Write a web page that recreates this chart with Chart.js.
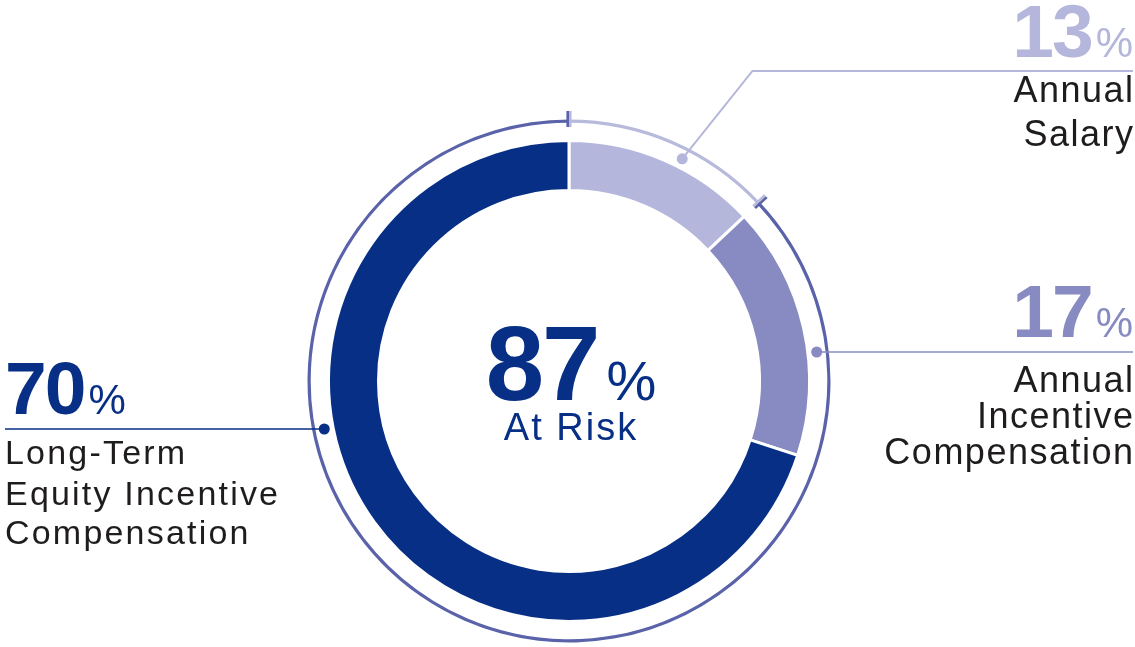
<!DOCTYPE html>
<html>
<head>
<meta charset="utf-8">
<script src="https://cdn.jsdelivr.net/npm/chart.js@4/dist/chart.umd.min.js"></script>
<style>
  html, body { margin: 0; padding: 0; background: #fff; }
  #wrap { position: relative; width: 1135px; height: 647px; overflow: hidden; font-family: "Liberation Sans", Arial, sans-serif; }
  #pay { position: absolute; left: 0; top: 0; }
  .t { position: absolute; white-space: nowrap; line-height: 1; }
</style>
</head>
<body>
<div id="wrap">
  <canvas id="pay" width="1135" height="647"></canvas>
</div>
<script>
// pay mix, percent of total target compensation
const categories = ['Annual Salary', 'Annual Incentive Compensation', 'Long-Term Equity Incentive Compensation'];
const shares = [13, 17, 70];
const shareLabels = ['13', '17', '70'];
const atRisk = '87';
const atRiskLabel = 'At Risk';

const sliceColors = ['#b4b7db', '#878bc2', '#072f86'];
const ringColors = ['#b8badc', '#5a63a9'];
const textColor = '#1f1c1d';

// outer thin ring: fixed salary vs. everything at risk
const ringData = [shares[0], shares[1] + shares[2]];

// ticks on the thin ring + leader dots/lines
const decorations = {
  id: 'decorations',
  afterDatasetsDraw(chart) {
    const ctx = chart.ctx;
    const ring = chart.getDatasetMeta(0).data;
    const main = chart.getDatasetMeta(2).data;
    const cx = main[0].x, cy = main[0].y;

    // two-tone ticks where the ring changes colour
    ring.forEach((arc, i) => {
      const a = arc.startAngle;
      const prev = ringColors[(i + ring.length - 1) % ring.length];
      const r1 = 254, r2 = 270;
      const tx = -Math.sin(a), ty = Math.cos(a); // tangent (clockwise)
      [[prev, -1.3], [ringColors[i], 1.3]].forEach(([col, off]) => {
        ctx.save();
        ctx.strokeStyle = col;
        ctx.lineWidth = 2.6;
        ctx.beginPath();
        ctx.moveTo(cx + Math.cos(a) * r1 + tx * off, cy + Math.sin(a) * r1 + ty * off);
        ctx.lineTo(cx + Math.cos(a) * r2 + tx * off, cy + Math.sin(a) * r2 + ty * off);
        ctx.stroke();
        ctx.restore();
      });
    });

    const dotR = (main[0].outerRadius + ring[0].innerRadius) / 2;

    function dot(x, y, col) {
      ctx.fillStyle = col;
      ctx.beginPath();
      ctx.arc(x, y, 5.5, 0, Math.PI * 2);
      ctx.fill();
    }
    function line(pts, col, w) {
      ctx.strokeStyle = col;
      ctx.lineWidth = w;
      ctx.beginPath();
      ctx.moveTo(pts[0][0], pts[0][1]);
      pts.slice(1).forEach(p => ctx.lineTo(p[0], p[1]));
      ctx.stroke();
    }

    ctx.save();
    // salary: diagonal then across to the right
    const a0 = (27 - 90) * Math.PI / 180;
    const sx = cx + Math.cos(a0) * dotR, sy = cy + Math.sin(a0) * dotR;
    const ex = sx + (sy - 71) * 0.8;
    line([[sx, sy], [ex, 71], [1133, 71]], sliceColors[0], 2);
    dot(sx, sy, sliceColors[0]);

    // incentive: straight right
    const iy = 352;
    const ix = cx + Math.sqrt(dotR * dotR - (iy - cy) * (iy - cy));
    line([[ix, iy], [1133, iy]], sliceColors[1], 1.6);
    dot(ix, iy, sliceColors[1]);

    // long-term: straight left
    const ly = 429;
    const lx = cx - Math.sqrt(dotR * dotR - (ly - cy) * (ly - cy));
    line([[5, ly], [lx, ly]], sliceColors[2], 1.6);
    dot(lx, ly, sliceColors[2]);
    ctx.restore();
  }
};

new Chart(document.getElementById('pay'), {
  type: 'doughnut',
  data: {
    labels: categories,
    datasets: [
      { data: ringData, backgroundColor: ringColors, borderWidth: 0, weight: 3.2 },
      { data: [100], backgroundColor: 'rgba(0,0,0,0)', borderWidth: 0, weight: 17.8 },
      { data: shares, backgroundColor: sliceColors, borderColor: '#fff', borderWidth: 3, weight: 50 }
    ]
  },
  options: {
    responsive: false,
    animation: false,
    events: [],
    radius: 261.5,
    cutout: '72.85%',
    layout: { padding: { top: 118, bottom: 3, left: 3, right: 0 } },
    plugins: { legend: { display: false }, tooltip: { enabled: false } }
  },
  plugins: [decorations]
});

// text, placed by baseline
const wrap = document.getElementById('wrap');
function place(html, x, baseline, size, opts) {
  opts = opts || {};
  const el = document.createElement('div');
  el.className = 't';
  el.innerHTML = html;
  el.style.fontSize = size + 'px';
  el.style.color = opts.color || textColor;
  if (opts.bold) el.style.fontWeight = 'bold';
  if (opts.ls) el.style.letterSpacing = opts.ls + 'px';
  el.style.top = (baseline - 0.8465 * size) + 'px';
  if (opts.align === 'right') {
    el.style.right = (1135 - x - (opts.ls || 0)) + 'px';
  } else if (opts.align === 'center') {
    el.style.left = x + 'px';
    el.style.transform = 'translateX(-50%)';
  } else {
    el.style.left = x + 'px';
  }
  wrap.appendChild(el);
}
function bigPct(num, pctSize, gap) {
  return '<span style="font-weight:bold;letter-spacing:-2px">' + num + '</span>' +
    '<span style="font-size:' + pctSize + 'px;margin-left:' + gap + 'px">%</span>';
}

// salary
place(bigPct(shareLabels[0], 42, 4), 1133, 57, 75, { align: 'right', color: sliceColors[0] });
place('Annual', 1133, 102, 36, { align: 'right', ls: 1.5 });
place('Salary', 1133, 146, 36, { align: 'right', ls: 1.5 });

// annual incentive
place(bigPct(shareLabels[1], 42, 4), 1133, 337, 75, { align: 'right', color: sliceColors[1] });
place('Annual', 1133, 392, 36, { align: 'right', ls: 1.5 });
place('Incentive', 1133, 428, 36, { align: 'right', ls: 1.5 });
place('Compensation', 1133, 464, 36, { align: 'right', ls: 1.5 });

// long-term equity
place(bigPct(shareLabels[2], 42, 4), 5, 414, 75, { color: sliceColors[2] });
place('Long-Term', 5, 464, 34, { ls: 2.2 });
place('Equity Incentive', 5, 505, 34, { ls: 2.2 });
place('Compensation', 5, 544, 34, { ls: 2.2 });

// centre
place(bigPct(atRisk, 56, 8), 571, 400, 105, { align: 'center', color: sliceColors[2] });
place(atRiskLabel, 571, 440, 38, { align: 'center', color: sliceColors[2], ls: 2 });
</script>
</body>
</html>
